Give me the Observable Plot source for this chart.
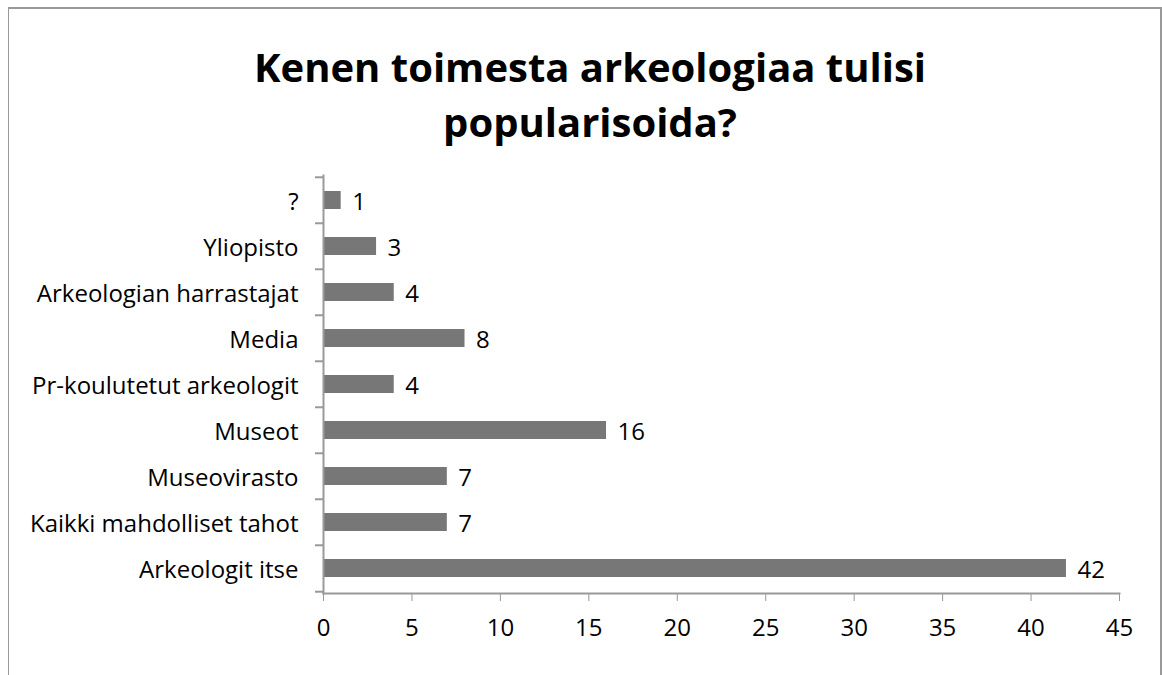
<!DOCTYPE html>
<html><head><meta charset="utf-8">
<script src="https://cdn.jsdelivr.net/npm/d3@7"></script>
<script src="https://cdn.jsdelivr.net/npm/@observablehq/plot@0.6"></script>
<style>
body{margin:0;background:#fff;font-family:"Open Sans",sans-serif;overflow:hidden;}
#frame{position:absolute;left:8px;top:7px;width:1151px;height:720px;border-left:1px solid #999;border-top:2px solid #999;border-right:2px solid #999;}
#title{position:absolute;left:9px;top:39px;width:1162px;text-align:center;font-weight:bold;font-size:40px;line-height:55px;color:#000;}
#chart{position:absolute;left:0;top:160px;}
</style></head>
<body>
<div id="frame"></div>
<div id="title">Kenen toimesta arkeologiaa tulisi<br>popularisoida?</div>
<div id="chart"></div>
<script>
const categories = ["?", "Yliopisto", "Arkeologian harrastajat", "Media", "Pr-koulutetut arkeologit", "Museot", "Museovirasto", "Kaikki mahdolliset tahot", "Arkeologit itse"];
const values = [1, 3, 4, 8, 4, 16, 7, 7, 42];
const xTicks = [0, 5, 10, 15, 20, 25, 30, 35, 40, 45];

const data = categories.map((c, i) => ({label: c, value: values[i]}));
const plotHeight = 418;
const step = plotHeight / categories.length;

const chart = Plot.plot({
  width: 1162,
  height: 493,
  marginTop: 15,
  marginBottom: 60,
  marginLeft: 323,
  marginRight: 43,
  style: {fontFamily: "'Open Sans', sans-serif", fontSize: "24px", color: "#000", background: "transparent", overflow: "visible"},
  x: {domain: [0, 45]},
  y: {domain: categories, paddingInner: 0.61, paddingOuter: 0.305},
  marks: [
    Plot.barX(data, {x: "value", y: "label", fill: "#777"}),
    Plot.text(data, {x: "value", y: "label", text: d => String(d.value), textAnchor: "start", dx: 11, dy: 2, fill: "#000", fontSize: 24}),
    Plot.axisY({tickSize: 0, tickPadding: 25, fontSize: 24, dy: 2, label: null}),
    Plot.axisX({ticks: xTicks, tickSize: 8, tickPadding: 17, stroke: "#999", fontSize: 24, label: null}),
    Plot.ruleY(categories, {y: d => d, x1: 0, x2: 0, insetLeft: -8, dy: -step / 2, stroke: "#999", strokeWidth: 2}),
    Plot.ruleY([categories[categories.length - 1]], {y: d => d, x1: 0, x2: 0, insetLeft: -8, dy: step / 2, stroke: "#999", strokeWidth: 2}),
    Plot.frame({anchor: "left", stroke: "#999", strokeWidth: 2}),
    Plot.frame({anchor: "bottom", stroke: "#999", strokeWidth: 2})
  ]
});
document.getElementById("chart").appendChild(chart);
</script>
</body></html>
